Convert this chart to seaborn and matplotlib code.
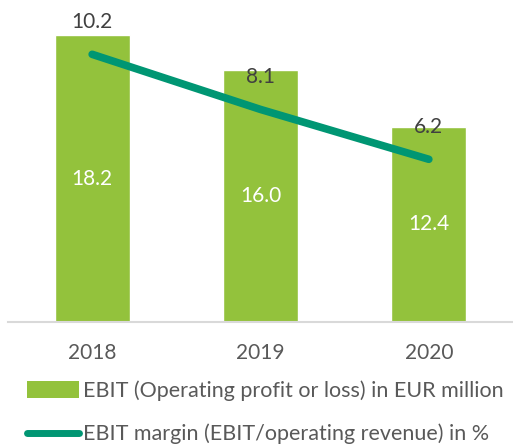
import matplotlib
matplotlib.use("Agg")
import matplotlib.pyplot as plt
import seaborn as sns
import pandas as pd
from matplotlib.patches import Patch
from matplotlib.lines import Line2D

years = ["2018", "2019", "2020"]
ebit = [18.2, 16.0, 12.4]
margin = [10.2, 8.1, 6.2]

bar_label = "EBIT (Operating profit or loss) in EUR million"
line_label = "EBIT margin (EBIT/operating revenue) in %"

bar_color = "#93C23C"
line_color = "#009673"
text_color = "#404040"

sns.set_theme(style="white")
plt.rcParams["font.family"] = ["Lato", "DejaVu Sans"]

df = pd.DataFrame({"Year": years, "EBIT": ebit, "Margin": margin})

fig = plt.figure(figsize=(5.13, 4.44), dpi=100)
ax = fig.add_axes([8 / 513, 122 / 444, 505 / 513, 322 / 444])

sns.barplot(data=df, x="Year", y="EBIT", color=bar_color, width=0.445,
            saturation=1, ax=ax)
ax.set_xlim(-0.5, 2.5)
ax.set_ylim(0, 20.43)
ax.set_xlabel("")
ax.set_ylabel("")
ax.set_yticks([])
for s in ["top", "right", "left"]:
    ax.spines[s].set_visible(False)
ax.spines["bottom"].set_color("#d9d9d9")
ax.spines["bottom"].set_linewidth(1.5)
ax.tick_params(axis="x", length=0, labelsize=15, labelcolor="#595959", pad=15)

for i, v in enumerate(ebit):
    ax.text(i, v / 2, f"{v:.1f}", ha="center", va="center",
            color="white", fontsize=15)

ax2 = ax.twinx()
sns.lineplot(x=[0, 1, 2], y=margin, color=line_color, linewidth=5.5,
             solid_capstyle="round", ax=ax2)
ax2.set_ylim(0, 12.27)
ax2.set_yticks([])
for s in ["top", "right", "left", "bottom"]:
    ax2.spines[s].set_visible(False)
for i, v in enumerate(margin):
    ax2.annotate(f"{v:.1f}", (i, v), xytext=(0, 23), textcoords="offset points",
                 ha="center", va="center", color=text_color, fontsize=15)

handles = [Patch(facecolor=bar_color, edgecolor="none"),
           Line2D([0], [0], color=line_color, linewidth=5, solid_capstyle="round")]
fig.legend(handles, [bar_label, line_label], loc="upper left",
           bbox_to_anchor=(18 / 513, 1 - 372 / 444), frameon=False,
           fontsize=15.5, handlelength=2.45, handleheight=0.8, handletextpad=0.15,
           labelspacing=1.05, labelcolor="#595959", borderaxespad=0)

fig.savefig("out.png", dpi=100)
